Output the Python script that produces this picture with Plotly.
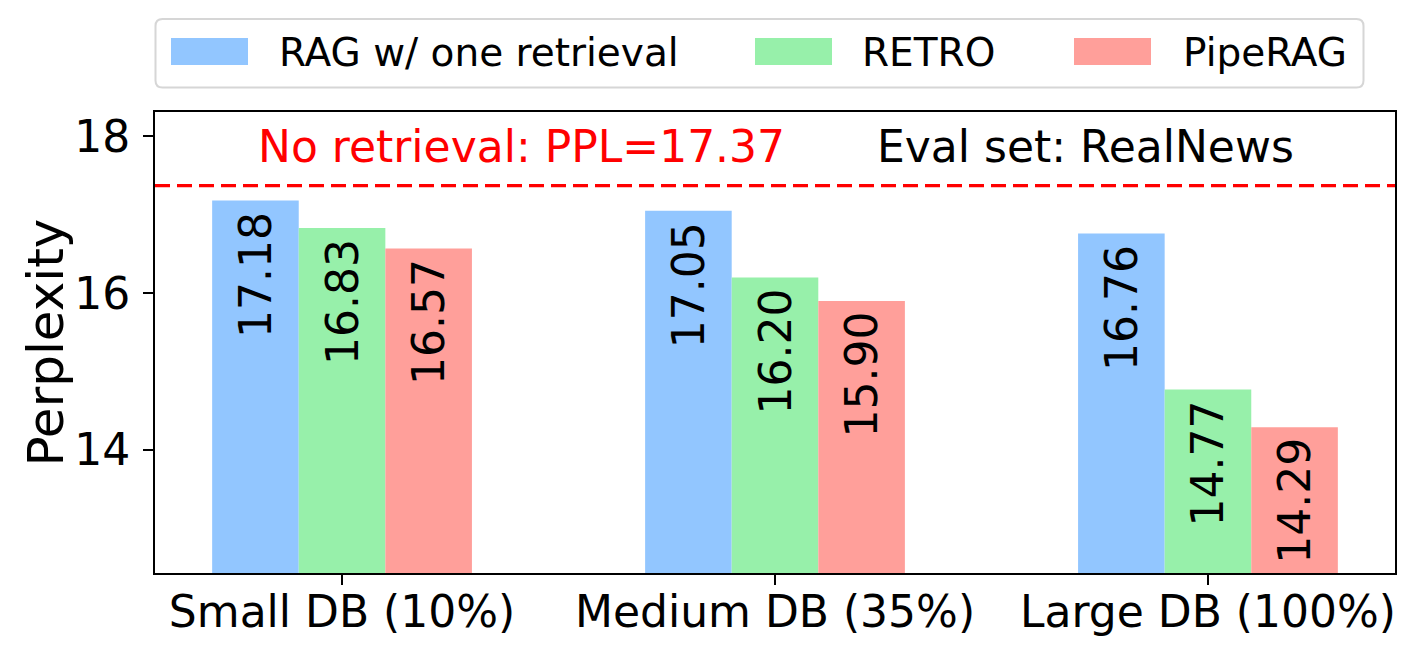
import plotly.graph_objects as go

# --- DATA ---
categories = ["Small DB (10%)", "Medium DB (35%)", "Large DB (100%)"]
series_names = ["RAG w/ one retrieval", "RETRO", "PipeRAG"]
rag_one = [17.18, 17.05, 16.76]
retro = [16.83, 16.20, 14.77]
piperag = [16.57, 15.90, 14.29]
no_retrieval_ppl = 17.37
eval_set = "RealNews"

colors = ["#92C6FF", "#97F0AA", "#FF9F9A"]
series_values = [rag_one, retro, piperag]

FONT = "DejaVu Sans"
W, H = 1418, 656
L, R, T, B = 155, 23, 112, 83
PW, PH = W - L - R, H - T - B


# pixel -> paper helpers for the hand-drawn legend
def px(x):
    return (x - L) / PW


def py(y):
    return (H - B - y) / PH


fig = go.Figure()

for name, vals, col in zip(series_names, series_values, colors):
    fig.add_trace(go.Bar(
        x=categories, y=vals, name=name,
        marker=dict(color=col, line=dict(width=0)),
        showlegend=False,
    ))

# value labels, rotated, hanging just below the top of each bar
annotations = []
bar_w = 0.2
for j, vals in enumerate(series_values):
    for i, v in enumerate(vals):
        annotations.append(dict(
            x=i + (j - 1) * bar_w, y=v, xref="x", yref="y",
            text=f"{v:.2f}", showarrow=False, textangle=-90,
            xanchor="center", yanchor="top", yshift=-9,
            font=dict(family=FONT, size=44, color="black"),
        ))

# text inside the plot
annotations.append(dict(
    x=px(521), y=py(146), xref="paper", yref="paper",
    text=f"No retrieval: PPL={no_retrieval_ppl:.2f}", showarrow=False,
    xanchor="center", yanchor="middle",
    font=dict(family=FONT, size=44, color="red"),
))
annotations.append(dict(
    x=px(1085.5), y=py(146), xref="paper", yref="paper",
    text=f"Eval set: {eval_set}", showarrow=False,
    xanchor="center", yanchor="middle",
    font=dict(family=FONT, size=44, color="black"),
))

# y axis title
annotations.append(dict(
    x=px(45), y=0.5, xref="paper", yref="paper",
    text="Perplexity", showarrow=False, textangle=-90,
    xanchor="center", yanchor="middle",
    font=dict(family=FONT, size=50, color="black"),
))

# --- legend drawn by hand (matplotlib-like big swatches) ---
shapes = []
x0, x1, y0, y1, r = 155.5, 1363.5, 19, 87.5, 7
rx, ry = r / PW, r / PH
X0, X1, Y0, Y1 = px(x0), px(x1), py(y0), py(y1)
path = (
    f"M{X0 + rx},{Y0} L{X1 - rx},{Y0} Q{X1},{Y0} {X1},{Y0 - ry} "
    f"L{X1},{Y1 + ry} Q{X1},{Y1} {X1 - rx},{Y1} "
    f"L{X0 + rx},{Y1} Q{X0},{Y1} {X0},{Y1 + ry} "
    f"L{X0},{Y0 - ry} Q{X0},{Y0} {X0 + rx},{Y0} Z"
)
shapes.append(dict(type="path", path=path, xref="paper", yref="paper",
                   line=dict(color="#d6d6d6", width=2), fillcolor="white",
                   layer="above"))

swatch_x = [171, 755, 1074]
text_x = [277, 860, 1181]
for sx, tx, name, col in zip(swatch_x, text_x, series_names, colors):
    shapes.append(dict(type="rect", xref="paper", yref="paper",
                       x0=px(sx), x1=px(sx + 77), y0=py(38), y1=py(65),
                       fillcolor=col, line=dict(width=0), layer="above"))
    annotations.append(dict(
        x=px(tx), y=py(52), xref="paper", yref="paper", text=name,
        showarrow=False, xanchor="left", yanchor="middle",
        font=dict(family=FONT, size=39, color="black"),
    ))

# dashed reference line
shapes.append(dict(type="line", xref="paper", yref="y", x0=0, x1=1,
                   y0=no_retrieval_ppl, y1=no_retrieval_ppl,
                   line=dict(color="red", width=3.3, dash="15px,7px"),
                   layer="above"))

fig.update_layout(
    width=W, height=H, autosize=False,
    margin=dict(l=L, r=R, t=T, b=B, pad=0),
    paper_bgcolor="white", plot_bgcolor="white",
    barmode="group", bargap=0.4, bargroupgap=0,
    font=dict(family=FONT, color="black"),
    annotations=annotations, shapes=shapes,
    xaxis=dict(
        range=[-0.432, 2.432], showgrid=False, zeroline=False,
        showline=True, linecolor="black", linewidth=2, mirror=True,
        ticks="outside", ticklen=10, tickwidth=2, tickcolor="black",
        tickfont=dict(family=FONT, size=44, color="black"),
        ticklabelstandoff=-11,
    ),
    yaxis=dict(
        range=[12.43, 18.31], showgrid=False, zeroline=False,
        tickvals=[14, 16, 18],
        showline=True, linecolor="black", linewidth=2, mirror=True,
        ticks="outside", ticklen=10, tickwidth=2, tickcolor="black",
        tickfont=dict(family=FONT, size=44, color="black"),
        ticklabelstandoff=4,
    ),
)

# drop the default 8px page margin so the figure sits at the window corner
fig.write_html(
    "out.html",
    config={"displayModeBar": False},
    post_script="document.body.style.margin='0';",
)
